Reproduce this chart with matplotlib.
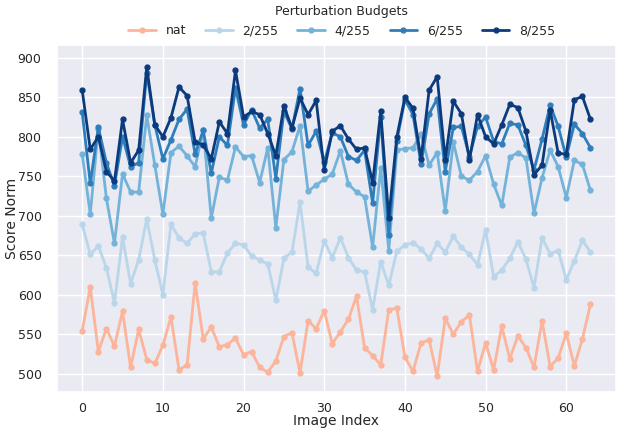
import numpy as np
import matplotlib
matplotlib.use("Agg")
from matplotlib import pyplot as plt
import seaborn as sns

# image index on the x axis
idx = np.arange(64)

# score norm per budget
nat = [554, 610, 528, 557, 535, 579, 508, 556, 518, 513, 536, 572, 505, 511, 615, 544,
       559, 534, 537, 545, 524, 528, 508, 502, 516, 547, 552, 501, 567, 557, 580, 538,
       553, 569, 598, 533, 523, 511, 581, 583, 521, 503, 539, 543, 497, 570, 550, 566,
       574, 503, 539, 505, 560, 519, 548, 533, 508, 567, 509, 520, 551, 510, 544, 588]
eps2 = [689, 651, 662, 634, 590, 673, 614, 644, 696, 644, 600, 689, 672, 665, 677, 678,
        629, 629, 653, 665, 663, 649, 644, 639, 593, 646, 654, 717, 635, 627, 668, 647,
        672, 647, 631, 629, 581, 642, 612, 655, 663, 666, 658, 646, 665, 654, 674, 660,
        651, 638, 682, 623, 631, 646, 667, 645, 609, 672, 652, 656, 619, 643, 669, 654]
eps4 = [778, 702, 810, 722, 665, 753, 730, 730, 827, 764, 702, 780, 788, 776, 762, 808,
        697, 749, 745, 787, 775, 776, 742, 786, 685, 771, 781, 814, 731, 739, 746, 753,
        782, 740, 730, 724, 660, 761, 656, 783, 785, 786, 803, 764, 780, 706, 793, 750,
        745, 756, 776, 740, 713, 774, 780, 773, 703, 748, 783, 762, 723, 770, 765, 732]
eps6 = [831, 741, 812, 767, 738, 800, 762, 767, 881, 815, 772, 796, 822, 835, 778, 808,
        754, 800, 789, 862, 815, 834, 811, 822, 747, 832, 810, 861, 789, 807, 768, 805,
        800, 775, 770, 783, 716, 825, 676, 795, 847, 828, 765, 829, 848, 756, 812, 813,
        775, 813, 825, 794, 791, 817, 815, 789, 758, 797, 840, 813, 774, 816, 804, 786]
eps8 = [859, 784, 800, 756, 744, 822, 767, 783, 888, 815, 800, 824, 863, 852, 793, 790,
        772, 819, 804, 884, 825, 832, 828, 804, 776, 839, 811, 849, 828, 846, 758, 807,
        814, 797, 784, 786, 742, 832, 697, 800, 850, 836, 772, 859, 876, 771, 845, 829,
        771, 828, 800, 791, 815, 841, 837, 807, 752, 764, 834, 779, 778, 847, 851, 822]

labels = ["nat", "2/255", "4/255", "6/255", "8/255"]
colors = ["#fcb49a", "#b9d6ea", "#74b3d9", "#2f7ebc", "#0b3b7c"]

sns.set_theme(style="darkgrid")

fig, ax = plt.subplots(figsize=(6.24, 4.34), dpi=100)
fig.subplots_adjust(left=0.091, right=0.987, top=0.896, bottom=0.097)

for ys, lab, col in zip([nat, eps2, eps4, eps6, eps8], labels, colors):
    ax.plot(idx, ys, '-o', color=col, lw=2, ms=3.5, label=lab)

ax.set_ylim(477, 916)
ax.set_xlabel("Image Index", fontsize=10, labelpad=-1)
ax.set_ylabel("Score Norm", fontsize=10, labelpad=-1)
ax.tick_params(labelsize=9)
ax.tick_params(axis="x", pad=1.5)
ax.tick_params(axis="y", pad=5)

ax.legend(title="Perturbation Budgets", ncol=5, loc="lower center",
          bbox_to_anchor=(0.51, 0.99), frameon=False, fontsize=9,
          title_fontsize=9, columnspacing=1.5, handlelength=2.2)

plt.savefig("out.png", dpi=100)
